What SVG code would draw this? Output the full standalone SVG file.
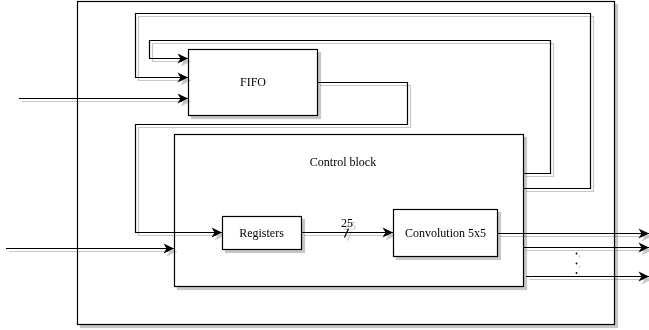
<svg xmlns="http://www.w3.org/2000/svg" width="649" height="330" viewBox="0 0 649 330">
  <style>
    .box { fill: #ffffff; stroke: #000000; stroke-width: 1.2; }
    .wire { fill: none; stroke: #000000; stroke-width: 1.2; }
    .arr { marker-end: url(#arrow); }
    .lbl { font-family: "Liberation Serif", "Times New Roman", Times, serif; font-size: 12px; fill: #000000; text-anchor: middle; }
  </style>
  <defs>
    <filter id="shadow" filterUnits="userSpaceOnUse" x="0" y="0" width="649" height="330">
      <feOffset in="SourceAlpha" dx="3" dy="3" result="off"/>
      <feColorMatrix in="off" type="matrix" values="0 0 0 0 0  0 0 0 0 0  0 0 0 0 0  0 0 0 0.22 0" result="sh"/>
      <feMerge>
        <feMergeNode in="sh"/>
        <feMergeNode in="SourceGraphic"/>
      </feMerge>
    </filter>
    <marker id="arrow" markerUnits="userSpaceOnUse" markerWidth="12" markerHeight="11" refX="10.5" refY="5" orient="auto" overflow="visible">
      <path d="M0,0 L10.5,5 L0,10 L3,5 Z" fill="#000000"/>
    </marker>
  </defs>

  <!-- enclosing system frame -->
  <g id="frame" filter="url(#shadow)">
    <rect class="box" x="77.5" y="1.5" width="537" height="323"/>
  </g>

  <g id="fifo" filter="url(#shadow)">
    <rect class="box" x="188.5" y="49.5" width="129" height="66"/>
    <text class="lbl" x="253" y="86">FIFO</text>
  </g>

  <g id="control-block" filter="url(#shadow)">
    <rect class="box" x="174.5" y="134.5" width="349" height="152"/>
    <text class="lbl" x="343" y="166">Control block</text>
  </g>

  <!-- signal wiring -->
  <g id="connectors" filter="url(#shadow)">
    <path class="wire arr" d="M19 98.5 H188"/>
    <path class="wire arr" d="M6 248.5 H174"/>
    <path class="wire arr" d="M523 188.5 H590.5 V13.5 H135.5 V77.5 H188"/>
    <path class="wire arr" d="M523 173.5 H550.5 V40.5 H149.5 V58.5 H188"/>
    <path class="wire arr" d="M317 82.5 H407.5 V124.5 H135.5 V232.5 H222"/>
    <path class="wire arr" d="M301 232.5 H393"/>
    <path class="wire" d="M344.5 237.5 L348.5 228.5"/>
    <text class="lbl" x="347" y="227">25</text>
    <path class="wire arr" d="M497 233.5 H649"/>
    <path class="wire arr" d="M523 247.5 H649"/>
    <path class="wire arr" d="M526 276.5 H649"/>
    <circle cx="576.5" cy="253.5" r="0.9" fill="#000000"/>
    <circle cx="576.5" cy="263.5" r="0.9" fill="#000000"/>
    <circle cx="576.5" cy="273" r="0.9" fill="#000000"/>
  </g>

  <g id="registers" filter="url(#shadow)">
    <rect class="box" x="222.5" y="216.5" width="79" height="33"/>
    <text class="lbl" x="261.5" y="237">Registers</text>
  </g>

  <g id="convolution" filter="url(#shadow)">
    <rect class="box" x="393.5" y="209.5" width="104" height="47"/>
    <text class="lbl" x="445.5" y="237">Convolution 5x5</text>
  </g>
</svg>
